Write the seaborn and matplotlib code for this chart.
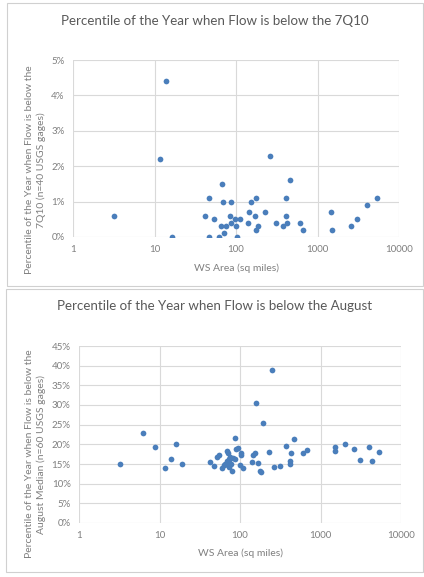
import matplotlib
matplotlib.use("Agg")
import matplotlib.pyplot as plt
import seaborn as sns
import pandas as pd
from matplotlib.patches import Rectangle
from matplotlib.ticker import FixedLocator, FuncFormatter

# ---- data ----
top_area = [3.2, 11.8, 13.8, 16.3, 42, 47, 46, 53, 67, 62, 65, 70, 71, 75, 84, 86, 88,
            97, 99, 103, 111, 140, 144, 154, 169, 178, 174, 188, 229, 264, 310, 377,
            407, 415, 426, 464, 605, 670, 1465, 1493, 2577, 3053, 4012, 5370]
top_pct = [0.6, 2.2, 4.4, 0.0, 0.6, 1.1, 0.0, 0.5, 1.5, 0.0, 0.3, 1.0, 0.1, 0.3, 0.6, 0.4, 1.0,
           0.5, 0.3, 0.0, 0.5, 0.4, 0.7, 1.0, 0.6, 1.1, 0.2, 0.3, 0.7, 2.3, 0.4, 0.3,
           0.6, 1.1, 0.4, 1.6, 0.4, 0.2, 0.7, 0.2, 0.3, 0.5, 0.9, 1.1]

bot_area = [3.2, 6.3, 8.9, 11.8, 13.9, 16.2, 18.8, 42, 47, 52, 55, 60, 63, 66, 68, 68, 70,
            71, 72, 73, 74, 75, 78, 80, 83, 86, 87, 88, 94, 99, 102, 103, 110, 141, 144,
            152, 157, 166, 177, 181, 191, 227, 250, 264, 311, 373, 418, 422, 430, 464,
            612, 673, 1500, 1514, 2034, 2607, 3069, 4002, 4365, 5381]
bot_pct = [14.9, 23.0, 19.4, 14.0, 16.3, 20.1, 14.9, 15.5, 14.5, 16.8, 17.2, 14.0, 14.7,
           15.1, 15.7, 18.3, 17.7, 14.7, 16.2, 14.2, 15.5, 16.7, 15.0, 13.2, 16.4, 21.6,
           16.2, 18.9, 19.1, 14.7, 17.2, 17.7, 14.0, 15.5, 17.2, 17.8, 30.6, 15.3, 13.2,
           13.0, 25.3, 18.1, 38.9, 14.3, 14.6, 19.6, 15.1, 15.8, 17.7, 21.4, 17.7, 18.5,
           19.2, 18.3, 20.1, 18.9, 16.0, 19.2, 15.8, 18.1]

top_title = "Percentile of the Year when Flow is below the 7Q10"
bot_title = "Percentile of the Year when Flow is below the August"
top_ylabel = "Percentile of the Year when Flow is below the\n7Q10 (n=40 USGS gages)"
bot_ylabel = "Percentile of the Year when Flow is below the\nAugust Median (n=60 USGS gages)"
xlabel = "WS Area (sq miles)"
x_ticks = [1, 10, 100, 1000, 10000]
top_yticks = [0, 1, 2, 3, 4, 5]
bot_yticks = [0, 5, 10, 15, 20, 25, 30, 35, 40, 45]

# ---- style ----
sns.set_style("white")
plt.rcParams['font.family'] = ['Lato', 'DejaVu Sans']
TXT = "#595959"
TICK = "#7f7f7f"
GRID = "#d9d9d9"
DOT = "#4a7ebb"

fig = plt.figure(figsize=(4.24, 5.77), dpi=100)
W, H = 424, 577

def fx(px):
    return px / W

def fy(py):
    return 1 - py / H

# panel borders
for (x0, y0, x1, y1) in [(7, 3, 423, 286), (6, 289, 423, 572)]:
    fig.patches.append(Rectangle((fx(x0), fy(y1)), fx(x1) - fx(x0), fy(y0) - fy(y1),
                                 transform=fig.transFigure, fill=False,
                                 edgecolor="#d0d0d0", linewidth=0.8, zorder=0))

def make_panel(rect, area, pct, yticks, ylabel, title, title_y, xlabel_y, ylab_x, ylab_y):
    l, t, r, b = rect
    ax = fig.add_axes([fx(l), fy(b), fx(r) - fx(l), fy(t) - fy(b)])
    df = pd.DataFrame({"area": area, "pct": pct})
    sns.scatterplot(data=df, x="area", y="pct", ax=ax, color=DOT, s=17,
                    linewidth=0, zorder=3)
    ax.set_xscale("log")
    ax.set_xlim(x_ticks[0], x_ticks[-1])
    ax.set_ylim(yticks[0], yticks[-1])
    ax.xaxis.set_major_locator(FixedLocator(x_ticks))
    ax.xaxis.set_minor_locator(FixedLocator([]))
    ax.xaxis.set_major_formatter(FuncFormatter(lambda v, p: f"{int(round(v))}"))
    ax.set_yticks(yticks)
    ax.yaxis.set_major_formatter(FuncFormatter(lambda v, p: f"{int(round(v))}%"))
    ax.grid(True, color=GRID, linewidth=0.8)
    ax.set_axisbelow(True)
    for s in ax.spines.values():
        s.set_visible(False)
    ax.tick_params(length=0, labelsize=7, labelcolor=TICK, pad=6)
    ax.set_xlabel("")
    ax.set_ylabel("")
    fig.text(fx((l + r) / 2), fy(xlabel_y), xlabel, ha="center", va="center",
             fontsize=7.5, color=TICK)
    fig.text(fx(ylab_x), fy(ylab_y), ylabel, ha="center", va="center",
             rotation=90, fontsize=7.5, color=TICK, linespacing=1.45)
    fig.text(fx(215), fy(title_y), title, ha="center", va="center",
             fontsize=9.6, color=TXT)
    return ax

make_panel((73, 60, 399, 237), top_area, top_pct, top_yticks, top_ylabel,
           top_title, 21, 268, 35.5, 170)
make_panel((79, 346, 401, 523), bot_area, bot_pct, bot_yticks, bot_ylabel,
           bot_title, 306, 553, 35.5, 454)

fig.savefig("out.png", dpi=100)
